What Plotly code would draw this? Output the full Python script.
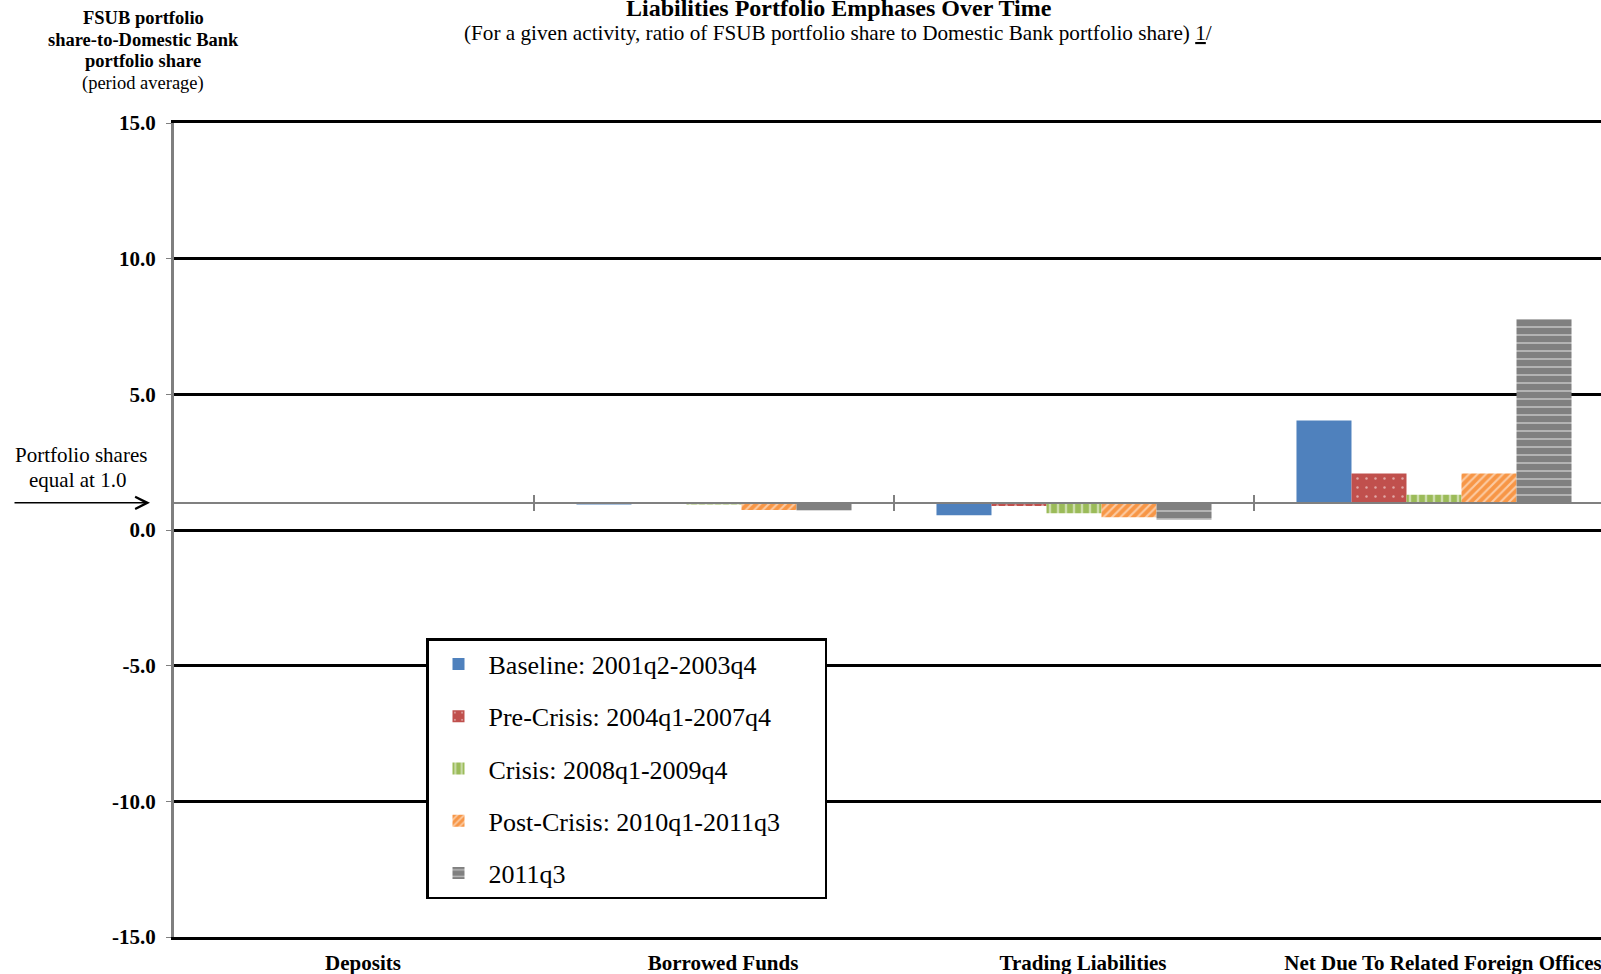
import plotly.graph_objects as go

categories = ["Deposits", "Borrowed Funds", "Trading Liabilities", "Net Due To Related Foreign Offices"]
series_names = ["Baseline: 2001q2-2003q4", "Pre-Crisis: 2004q1-2007q4", "Crisis: 2008q1-2009q4",
                "Post-Crisis: 2010q1-2011q3", "2011q3"]
baseline = [1.00, 0.94, 0.54, 4.04]
pre_crisis = [1.00, 0.99, 0.88, 2.08]
crisis = [1.00, 0.94, 0.62, 1.30]
post_crisis = [1.00, 0.74, 0.47, 2.08]
q3_2011 = [1.00, 0.72, 0.38, 7.78]
reference_level = 1.0
y_ticks = [15, 10, 5, 0, -5, -10, -15]
y_tick_text = [f"{v:.1f}" for v in y_ticks]
boundary_ticks = [0.5, 1.5, 2.5]

colors = ["#4F81BD", "#C0504D", "#9BBB59", "#F79646", "#808080"]
patterns = [
    dict(shape=""),
    dict(shape=".", size=9, solidity=0.06, fgcolor="white", bgcolor=colors[1]),
    dict(shape="|", size=8, solidity=0.3, fgcolor="white", bgcolor=colors[2]),
    dict(shape="/", size=6, solidity=0.35, fgcolor="white", bgcolor=colors[3]),
    dict(shape="-", size=8, solidity=0.2, fgcolor="white", bgcolor=colors[4]),
]

SERIF = "Liberation Serif"
W, H = 1601, 974
L, R, T, B = 174, 0, 123, 37
PW, PH = W - L - R, H - T - B


def fx(px):
    return (px - L) / PW


def fy(py):
    return (H - B - py) / PH


fig = go.Figure()
pad = "\u00a0" * 6
for i, (name, vals, col, pat) in enumerate(zip(series_names, [baseline, pre_crisis, crisis, post_crisis, q3_2011], colors, patterns)):
    label = name + pad if i == 3 else name
    fig.add_trace(go.Bar(
        x=categories, y=[v - reference_level for v in vals], base=[reference_level] * len(vals),
        name=label, legendgroup=name,
        marker=dict(color=col, line=dict(width=0), pattern=pat),
    ))

# empty traces to activate overlay axes for the 1.0 reference axis
fig.add_trace(go.Scatter(x=[], y=[], xaxis="x2", yaxis="y", showlegend=False))
fig.add_trace(go.Scatter(x=[], y=[], xaxis="x3", yaxis="y", showlegend=False))

xr = [-0.5, -0.5 + PW / 360.0]
ref_pos = (reference_level - y_ticks[-1]) / (y_ticks[0] - y_ticks[-1])
ref_axis = dict(overlaying="x", anchor="free", position=ref_pos, type="linear", range=xr,
                showline=True, linecolor="#808080", linewidth=2, tickvals=boundary_ticks,
                ticklen=7, tickwidth=2, tickcolor="#808080", showticklabels=False,
                showgrid=False, zeroline=False, automargin=False)

fig.update_layout(
    width=W, height=H, margin=dict(l=L, r=R, t=T, b=B, autoexpand=False),
    paper_bgcolor="white", plot_bgcolor="white",
    barmode="group", bargap=0.236, bargroupgap=0,
    font=dict(family=SERIF, color="black"),
    xaxis=dict(type="category", range=xr, showgrid=False, zeroline=False, automargin=False,
               showline=True, linecolor="black", linewidth=2.5, mirror=True,
               ticks="outside", ticklen=5, tickcolor="rgba(0,0,0,0)", ticklabelshift=9,
               tickfont=dict(family=SERIF, size=21, color="black", weight="bold")),
    xaxis2=dict(ref_axis, ticks="outside"),
    xaxis3=dict(ref_axis, ticks="inside"),
    yaxis=dict(range=[y_ticks[-1], y_ticks[0]], tickvals=y_ticks, ticktext=y_tick_text,
               showgrid=True, gridcolor="black", gridwidth=2.5, automargin=False,
               zeroline=True, zerolinecolor="black", zerolinewidth=2.5,
               showline=True, linecolor="#7f7f7f", linewidth=3,
               ticks="outside", ticklen=5, tickcolor="#7f7f7f", ticklabelstandoff=6,
               tickfont=dict(family=SERIF, size=21, color="black", weight="bold")),
    legend=dict(x=fx(426), y=fy(638), xanchor="left", yanchor="top",
                bgcolor="white", bordercolor="black", borderwidth=2.5,
                font=dict(family=SERIF, size=26, color="black"),
                traceorder="grouped", tracegroupgap=15.5, itemwidth=50),
    showlegend=True,
)

ann = [
    dict(text="<b>Liabilities Portfolio Emphases Over Time</b>", x=fx(839), y=fy(8), size=24),
    dict(text="(For a given activity, ratio of FSUB portfolio share to Domestic Bank portfolio share) <u>1</u>/",
         x=fx(838), y=fy(33), size=21.2),
    dict(text="<b>FSUB portfolio</b>", x=fx(143), y=fy(18), size=18.5),
    dict(text="<b>share-to-Domestic Bank</b>", x=fx(143), y=fy(40), size=18.5),
    dict(text="<b>portfolio share</b>", x=fx(143), y=fy(61), size=18.5),
    dict(text="(period average)", x=fx(143), y=fy(83), size=18.5),
    dict(text="Portfolio shares", x=fx(81), y=fy(455), size=21),
    dict(text="equal at 1.0", x=fx(78), y=fy(480), size=21),
]
for a in ann:
    fig.add_annotation(text=a["text"], x=a["x"], y=a["y"], xref="paper", yref="paper",
                       xanchor="center", yanchor="middle", showarrow=False,
                       font=dict(family=SERIF, size=a["size"], color="black"))

fig.add_annotation(text="", x=fx(150), y=reference_level, xref="paper", yref="y",
                   ax=-137, ay=0, showarrow=True, arrowhead=5, arrowsize=1.6,
                   arrowwidth=1.5, arrowcolor="black")

fig.write_html("out.html", config={"displayModeBar": False},
               post_script="document.body.style.margin='0';")
